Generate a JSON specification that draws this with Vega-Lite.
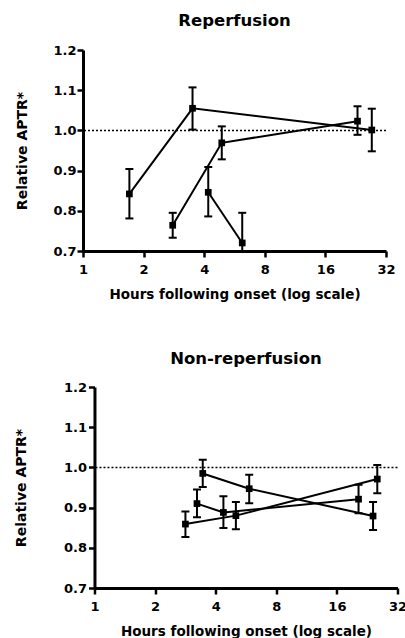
{
  "$schema": "https://vega.github.io/schema/vega-lite/v6.json",
  "background": "white",
  "padding": {"left": 14, "top": 12, "right": -13, "bottom": 0},
  "config": {
    "view": {"stroke": null},
    "font": "DejaVu Sans",
    "axis": {"domainColor": "black", "domainWidth": 3, "tickColor": "black", "tickWidth": 2.5, "tickSize": 6, "labelFont": "DejaVu Sans", "labelFontWeight": "bold", "labelFontSize": 13, "labelColor": "black", "titleFont": "DejaVu Sans", "titleFontWeight": "bold", "titleFontSize": 14, "titleColor": "black", "grid": false},
    "axisX": {"titleFontSize": 13.5, "labelPadding": 6, "titlePadding": 11},
    "title": {"font": "DejaVu Sans", "fontWeight": "bold", "fontSize": 16.5, "color": "black"}
  },
  "datasets": {
    "rep": [
      {"series": "A", "hours": 1.70, "value": 0.842, "lo": 0.781, "hi": 0.904},
      {"series": "A", "hours": 3.50, "value": 1.055, "lo": 1.002, "hi": 1.107},
      {"series": "A", "hours": 27.2, "value": 1.001, "lo": 0.948, "hi": 1.054},
      {"series": "B", "hours": 2.79, "value": 0.764, "lo": 0.733, "hi": 0.795},
      {"series": "B", "hours": 4.89, "value": 0.969, "lo": 0.928, "hi": 1.010},
      {"series": "B", "hours": 23.1, "value": 1.023, "lo": 0.989, "hi": 1.060},
      {"series": "C", "hours": 4.19, "value": 0.846, "lo": 0.786, "hi": 0.909},
      {"series": "C", "hours": 6.18, "value": 0.720, "lo": 0.644, "hi": 0.795}
    ],
    "nonrep": [
      {"series": "A", "hours": 2.83, "value": 0.859, "lo": 0.827, "hi": 0.890},
      {"series": "A", "hours": 5.04, "value": 0.880, "lo": 0.846, "hi": 0.914},
      {"series": "A", "hours": 25.4, "value": 0.971, "lo": 0.936, "hi": 1.006},
      {"series": "B", "hours": 3.23, "value": 0.910, "lo": 0.876, "hi": 0.945},
      {"series": "B", "hours": 4.37, "value": 0.888, "lo": 0.849, "hi": 0.928},
      {"series": "B", "hours": 20.5, "value": 0.921, "lo": 0.886, "hi": 0.957},
      {"series": "C", "hours": 3.45, "value": 0.985, "lo": 0.951, "hi": 1.019},
      {"series": "C", "hours": 5.87, "value": 0.947, "lo": 0.911, "hi": 0.982},
      {"series": "C", "hours": 24.2, "value": 0.879, "lo": 0.844, "hi": 0.914}
    ],
    "ref": [{"ref": 1}]
  },
  "center": true,
  "spacing": 49,
  "vconcat": [
    {
      "width": 303,
      "height": 201,
      "title": {"text": "Reperfusion", "offset": 15},
      "resolve": {"scale": {"y": "independent"}},
      "layer": [
        {
          "data": {"name": "ref"},
          "mark": {"type": "rule", "strokeDash": [2, 2], "strokeWidth": 1.5, "color": "black"},
          "encoding": {"y": {"field": "ref", "type": "quantitative", "scale": {"domain": [0.7, 1.2], "nice": false, "zero": false}, "axis": {"orient": "right", "domain": false, "ticks": false, "labels": false, "title": null, "minExtent": 32, "maxExtent": 32}}}
        },
        {
          "layer": [
            {
              "data": {"name": "rep"},
              "mark": {"type": "rule", "strokeWidth": 2, "color": "black", "clip": true},
              "encoding": {
                "x": {"field": "hours", "type": "quantitative", "scale": {"type": "log", "base": 2, "domain": [1, 32], "nice": false}, "axis": {"values": [1, 2, 4, 8, 16, 32], "title": "Hours following onset (log scale)", "labelFlush": false}},
                "y": {"field": "lo", "type": "quantitative", "scale": {"domain": [0.7, 1.2], "nice": false, "zero": false}, "axis": {"values": [0.7, 0.8, 0.9, 1.0, 1.1, 1.2], "format": ".1f", "title": "Relative APTR*", "labelPadding": 1, "titlePadding": 23, "labelFlush": false}},
                "y2": {"field": "hi"}
              }
            },
            {
              "data": {"name": "rep"},
              "mark": {"type": "tick", "orient": "horizontal", "size": 8, "thickness": 2, "color": "black", "opacity": 1, "clip": true},
              "encoding": {"x": {"field": "hours", "type": "quantitative"}, "y": {"field": "lo", "type": "quantitative"}}
            },
            {
              "data": {"name": "rep"},
              "mark": {"type": "tick", "orient": "horizontal", "size": 8, "thickness": 2, "color": "black", "opacity": 1, "clip": true},
              "encoding": {"x": {"field": "hours", "type": "quantitative"}, "y": {"field": "hi", "type": "quantitative"}}
            },
            {
              "data": {"name": "rep"},
              "mark": {"type": "line", "strokeWidth": 2, "color": "black"},
              "encoding": {"x": {"field": "hours", "type": "quantitative"}, "y": {"field": "value", "type": "quantitative"}, "detail": {"field": "series"}}
            },
            {
              "data": {"name": "rep"},
              "mark": {"type": "square", "size": 45, "filled": true, "color": "black", "opacity": 1},
              "encoding": {"x": {"field": "hours", "type": "quantitative"}, "y": {"field": "value", "type": "quantitative"}}
            }
          ]
        }
      ]
    },
    {
      "width": 303,
      "height": 201,
      "title": {"text": "Non-reperfusion", "offset": 14},
      "layer": [
        {
          "data": {"name": "ref"},
          "mark": {"type": "rule", "strokeDash": [2, 2], "strokeWidth": 1.5, "color": "black"},
          "encoding": {"y": {"field": "ref", "type": "quantitative", "scale": {"domain": [0.7, 1.2], "nice": false, "zero": false}}}
        },
        {
          "data": {"name": "nonrep"},
          "mark": {"type": "rule", "strokeWidth": 2, "color": "black", "clip": true},
          "encoding": {
            "x": {"field": "hours", "type": "quantitative", "scale": {"type": "log", "base": 2, "domain": [1, 32], "nice": false}, "axis": {"values": [1, 2, 4, 8, 16, 32], "title": "Hours following onset (log scale)", "labelFlush": false}},
            "y": {"field": "lo", "type": "quantitative", "scale": {"domain": [0.7, 1.2], "nice": false, "zero": false}, "axis": {"values": [0.7, 0.8, 0.9, 1.0, 1.1, 1.2], "format": ".1f", "title": "Relative APTR*", "labelPadding": 2, "titlePadding": 35, "labelFlush": false}},
            "y2": {"field": "hi"}
          }
        },
        {
          "data": {"name": "nonrep"},
          "mark": {"type": "tick", "orient": "horizontal", "size": 8, "thickness": 2, "color": "black", "opacity": 1, "clip": true},
          "encoding": {"x": {"field": "hours", "type": "quantitative"}, "y": {"field": "lo", "type": "quantitative"}}
        },
        {
          "data": {"name": "nonrep"},
          "mark": {"type": "tick", "orient": "horizontal", "size": 8, "thickness": 2, "color": "black", "opacity": 1, "clip": true},
          "encoding": {"x": {"field": "hours", "type": "quantitative"}, "y": {"field": "hi", "type": "quantitative"}}
        },
        {
          "data": {"name": "nonrep"},
          "mark": {"type": "line", "strokeWidth": 2, "color": "black"},
          "encoding": {"x": {"field": "hours", "type": "quantitative"}, "y": {"field": "value", "type": "quantitative"}, "detail": {"field": "series"}}
        },
        {
          "data": {"name": "nonrep"},
          "mark": {"type": "square", "size": 45, "filled": true, "color": "black", "opacity": 1},
          "encoding": {"x": {"field": "hours", "type": "quantitative"}, "y": {"field": "value", "type": "quantitative"}}
        }
      ]
    }
  ]
}
